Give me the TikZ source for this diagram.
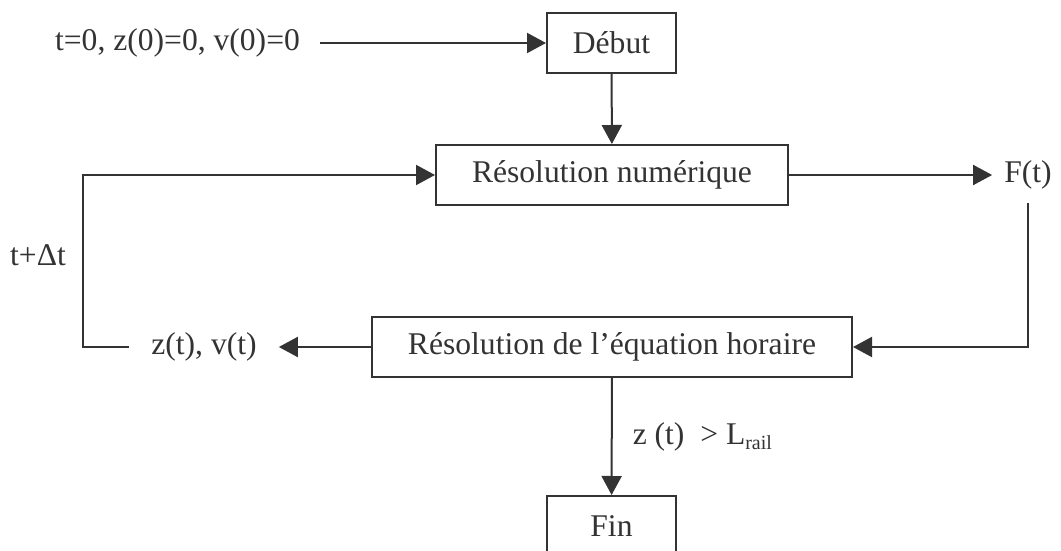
\documentclass[tikz,border=0pt]{standalone}
\usepackage{fontspec}
\setmainfont{Liberation Serif}
\usetikzlibrary{arrows.meta}
\definecolor{ink}{HTML}{333333}
\begin{document}
\begin{tikzpicture}[x=1pt,y=-1pt,
  every node/.style={text=ink,font=\fontsize{31.6}{36}\selectfont},
  box/.style={draw=ink,line width=2pt,minimum height=60pt,inner sep=0pt},
  lbl/.style={inner sep=0pt},
  conn/.style={draw=ink,line width=2pt},
  arr/.style={conn,-{Triangle[length=19pt,width=20pt]}}]
\clip (0,0) rectangle (1061,551);
\fill[white] (0,0) rectangle (1061,551);
% boxes
\node[box,minimum width=129pt] (debut) at (611.5,43) {Début};
\node[box,minimum width=352pt] (resnum) at (612,175) {Résolution numérique};
\node[box,minimum width=480pt] (eq) at (612,347) {Résolution de l’équation horaire};
\node[box,minimum width=129pt] (fin) at (611.5,526) {Fin};
% free texts
\node[lbl,inner xsep=20pt] (init) at (177.5,43) {t=0, z(0)=0, v(0)=0};
\node[lbl,inner xsep=12pt,minimum height=56pt] (ft) at (1028,175) {F(t)};
\node[lbl,inner xsep=22pt] (zv) at (204,347) {z(t), v(t)};
\node[lbl] (dt) at (38,255) {t+Δt};
\coordinate (lp) at (83,347);
% connectors
\draw[arr] (init) -- (debut);
\draw[arr] (debut) -- (resnum);
\draw[arr] (resnum) -- (ft);
\draw[arr] (ft.south) |- (eq.east);
\draw[arr] (eq) -- (zv);
\draw[arr] (zv.west) -- (lp) |- (resnum.west);
\draw[arr] (eq) -- node[lbl,right=20pt] (cond) {z (t)\ \ > L\raisebox{-0.35ex}{\fontsize{20}{20}\selectfont rail}} (fin);
\end{tikzpicture}
\end{document}
